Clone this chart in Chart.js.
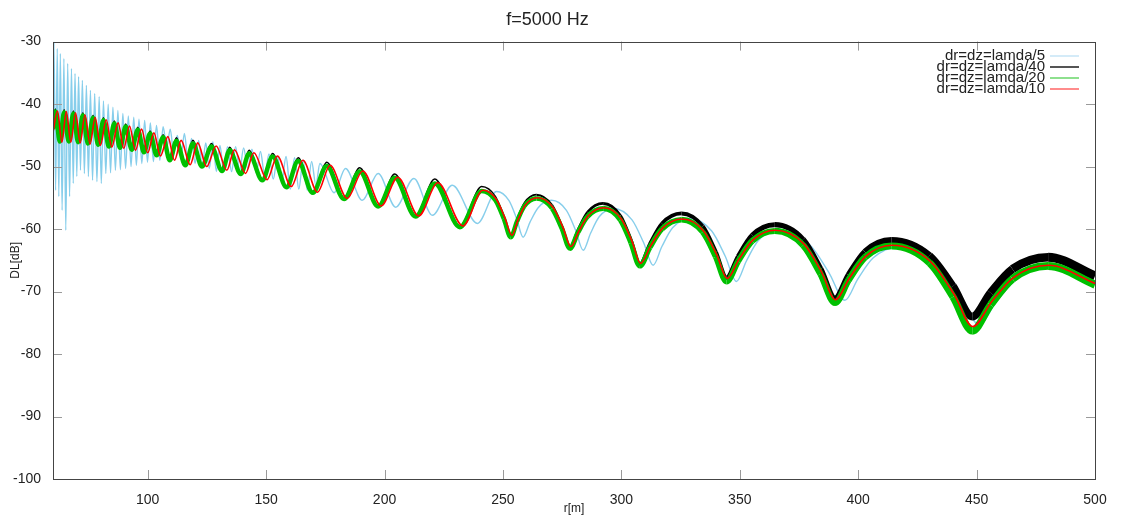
<!DOCTYPE html>
<html>
<head>
<meta charset="utf-8">
<script src="https://cdn.jsdelivr.net/npm/chart.js@4.4.0/dist/chart.umd.min.js"></script>
<style>
  html, body { margin: 0; background: #fff; }
</style>
</head>
<body>
<canvas id="c" width="1121" height="520"></canvas>
<script>
// f=5000 Hz, DL vs range for four grid steps
const xTicks = [100, 150, 200, 250, 300, 350, 400, 450, 500];
const yTicks = [-100, -90, -80, -70, -60, -50, -40, -30];

const labels = ["dr=dz=lamda/5", "dr=dz=lamda/40", "dr=dz=lamda/20", "dr=dz=lamda/10"];

// lamda/5 (light blue) - noisy spikes close in, then a clean shifted ripple
const rL5 = [60.0, 60.4, 61.1, 61.8, 62.45, 63.1, 63.85, 64.6, 65.4, 66.2, 67.0, 67.8, 68.55, 69.3, 70.05, 70.8,
  71.6, 72.4, 73.25, 74.1, 74.95, 75.8, 76.7, 77.6, 78.55, 79.5, 80.4, 81.3, 82.3, 83.3, 84.3, 85.3, 86.35, 87.4,
  88.45, 89.5, 90.65, 91.8, 92.95, 94.1, 95.2, 96.3, 97.5, 98.7, 99.9, 101.1, 102.4, 103.7, 105.1, 106.5,
  108.0, 109.5, 111.0, 112.5, 114.0, 115.5, 117.0, 118.5, 120.0, 121.5, 123.0, 124.5, 126.0, 127.5, 129.0, 130.5,
  132.0, 133.7, 135.4, 137.1, 138.8, 140.5, 142.2, 144.0, 145.8, 147.6, 149.4, 151.2, 153.0, 154.8, 156.6, 158.4,
  160.2, 162.0, 163.8, 165.6, 167.4, 169.2, 171.0, 172.7, 178.7, 183.5, 190.6, 197.3, 204.7, 212.4, 220.2, 228.6,
  239.2, 247.3, 252.56, 255.81, 258.5, 261.38, 264.86, 270.5, 276.8, 280.68, 283.9, 286.95, 290.63, 296.6,
  304.5, 309.37, 313.4, 317.12, 321.62, 328.9, 338.16, 343.87, 348.6, 352.78, 357.82, 366.0, 379.35, 387.58,
  394.4, 399.82, 406.38, 417.0, 432.98, 442.84, 451.0, 458.44, 467.43, 482.0, 500.0];
const dlL5 = [-55.8, -30.0, -53.8, -31.1, -54.8, -31.9, -57.0, -32.7, -60.2, -33.5, -54.8, -34.3, -52.7, -35.1, -51.6, -35.6,
  -50.6, -36.2, -51.1, -37.0, -51.6, -37.8, -52.2, -38.3, -52.4, -38.8, -52.7, -39.5, -51.1, -40.0, -51.0, -40.5, -50.6, -41.0,
  -50.5, -41.5, -50.3, -41.9, -50.0, -42.1, -49.8, -42.4, -49.5, -42.6, -49.3, -43.0, -49.2, -43.4, -49.0, -43.6,
  -47.0, -44.0, -48.0, -45.0, -48.5, -44.7, -49.0, -45.5, -49.5, -45.8, -50.0, -46.2, -50.3, -46.0, -50.8, -46.6,
  -50.5, -46.8, -50.8, -46.8, -50.6, -47.0, -50.3, -47.2, -51.0, -47.6, -51.5, -48.0, -52.0, -48.4, -52.4, -48.4,
  -53.6, -48.6, -53.6, -49.0, -53.8, -49.2, -53.0, -49.5, -54.2, -50.3, -55.4, -51.1, -56.5, -51.9, -57.8, -53.0,
  -59.1, -54.0, -55.46, -58.38, -61.3, -58.94, -56.58, -55.4, -57.0, -60.2, -63.4, -60.72, -58.04, -56.7,
  -58.52, -62.16, -65.8, -62.8, -59.8, -58.3, -60.32, -64.36, -68.4, -65.12, -61.84, -60.2, -62.44, -66.92,
  -71.4, -68.0, -64.6, -62.9, -65.38, -70.34, -75.3, -71.58, -67.86, -66.0, -68.3];

// lamda/40 (black) and lamda/20 (green) share the same sampled ranges
const rL40 = [60.0, 61.0, 62.85, 64.7, 66.65, 68.6, 70.6, 72.6, 74.75, 76.9, 79.1, 81.3, 83.6, 85.9, 88.3, 90.7, 93.25,
  95.8, 98.4, 101.0, 103.75, 106.5, 109.3, 112.1, 115.9, 119.1, 122.9, 126.9, 131.4, 134.6, 139.3, 142.8, 148.4, 152.7,
  158.6, 163.5, 169.7, 175.6, 182.9, 189.5, 197.3, 204.3, 213.1, 221.2, 231.8, 241.0, 246.8, 250.35, 253.3, 255.89,
  259.02, 264.1, 270.77, 274.89, 278.3, 281.66, 285.72, 292.3, 299.58, 304.08, 307.8, 312.02, 317.13, 325.4, 334.33,
  339.84, 344.4, 349.3, 355.21, 364.8, 376.74, 384.1, 390.2, 395.94, 402.87, 414.1, 430.13, 440.02, 448.2, 455.88,
  465.16, 480.2, 500.0];
const dlL40 = [-43.6, -40.8, -45.8, -40.9, -45.8, -41.1, -45.9, -41.4, -46.1, -41.8, -46.3, -42.2, -46.6, -42.7, -46.8, -43.2, -47.1,
  -43.7, -47.5, -44.3, -48.0, -44.9, -48.8, -45.4, -49.6, -45.8, -49.8, -46.3, -50.5, -46.9, -51.0, -47.4, -52.0, -47.9,
  -53.1, -48.6, -54.0, -49.3, -55.0, -50.2, -56.2, -51.2, -57.8, -52.0, -59.5, -53.2, -54.78, -57.94, -61.1, -58.46,
  -55.82, -54.5, -56.18, -59.54, -62.9, -60.1, -57.3, -55.9, -57.84, -61.72, -65.6, -62.36, -59.12, -57.5, -59.56,
  -63.68, -67.8, -64.4, -61.0, -59.3, -61.66, -66.38, -71.1, -67.38, -63.66, -61.8, -64.24, -69.12, -74.0, -70.2,
  -66.4, -64.5, -67.5];

const rL20 = [60.0, 61.0, 62.85, 64.7, 66.65, 68.6, 70.6, 72.6, 74.75, 76.9, 79.1, 81.3, 83.6, 85.9, 88.3, 90.7, 93.25,
  95.8, 98.4, 101.0, 103.75, 106.5, 109.3, 112.1, 115.9, 119.1, 122.9, 126.9, 131.4, 134.6, 139.3, 142.8, 148.4, 152.7,
  158.6, 163.5, 169.7, 175.6, 182.9, 189.5, 197.3, 204.3, 213.1, 221.2, 231.8, 241.0, 246.8, 250.35, 253.3, 255.89,
  259.02, 264.1, 270.77, 274.89, 278.3, 281.66, 285.72, 292.3, 299.58, 304.08, 307.8, 312.02, 317.13, 325.4, 334.33,
  339.84, 344.4, 349.3, 355.21, 364.8, 376.74, 384.1, 390.2, 395.94, 402.87, 414.1, 430.13, 440.02, 448.2, 455.88,
  465.16, 480.2, 500.0];
const dlL20 = [-44.0, -41.2, -46.0, -41.3, -46.0, -41.5, -46.1, -41.8, -46.3, -42.2, -46.5, -42.6, -46.8, -43.1, -47.0, -43.6, -47.3,
  -44.1, -47.7, -44.7, -48.2, -45.3, -49.0, -45.9, -49.8, -46.3, -50.0, -46.8, -50.7, -47.4, -51.2, -47.9, -52.2, -48.4,
  -53.3, -49.1, -54.2, -49.9, -55.2, -50.8, -56.4, -51.8, -58.0, -52.7, -59.7, -53.9, -55.38, -58.34, -61.3, -58.82,
  -56.34, -55.1, -56.7, -59.9, -63.1, -60.54, -57.98, -56.7, -58.54, -62.22, -65.9, -62.94, -59.98, -58.5, -60.48,
  -64.44, -68.4, -65.16, -61.92, -60.3, -62.6, -67.2, -71.8, -68.16, -64.52, -62.7, -65.42, -70.86, -76.3, -72.14,
  -67.98, -65.9, -68.9];

// lamda/10 (red), lagging slightly behind the green close in
const rL10 = [60.0, 61.9, 63.75, 65.6, 67.55, 69.5, 71.5, 73.5, 75.65, 77.8, 80.0, 82.5, 84.8, 87.5, 89.9, 92.3, 94.85,
  97.4, 100.0, 102.6, 105.35, 108.5, 111.3, 114.1, 117.9, 121.1, 124.9, 128.9, 133.4, 136.6, 141.3, 144.8, 150.4, 154.7,
  160.6, 165.5, 171.7, 177.0, 184.2, 190.8, 198.6, 205.6, 214.4, 222.5, 233.1, 241.5, 247.2, 250.75, 253.8, 256.29,
  259.42, 264.5, 271.17, 275.29, 278.7, 282.06, 286.12, 292.6, 299.98, 304.48, 308.1, 312.42, 317.53, 325.7, 334.73,
  340.24, 344.7, 349.7, 355.61, 365.0, 377.14, 384.5, 390.4, 396.34, 403.27, 414.3, 430.53, 440.42, 448.4, 456.28,
  465.56, 480.4, 500.0];
const dlL10 = [-44.5, -41.1, -46.1, -41.2, -46.1, -41.4, -46.2, -41.7, -46.4, -42.1, -46.6, -42.5, -46.9, -43.0, -47.1, -43.5, -47.4,
  -44.0, -47.8, -44.6, -48.3, -45.2, -49.0, -45.8, -49.7, -46.2, -50.0, -46.7, -50.6, -47.3, -51.1, -47.8, -52.1, -48.3,
  -53.2, -49.0, -54.1, -49.8, -55.1, -50.7, -56.3, -51.7, -57.9, -52.6, -59.5, -53.8, -55.24, -58.12, -61.0, -58.6,
  -56.2, -55.0, -56.56, -59.68, -62.8, -60.32, -57.84, -56.6, -58.38, -61.94, -65.5, -62.66, -59.82, -58.4, -60.3,
  -64.1, -67.9, -64.82, -61.74, -60.2, -62.42, -66.86, -71.3, -67.82, -64.34, -62.6, -65.2, -70.4, -75.6, -71.68,
  -67.76, -65.8, -68.7];

const colors = ["#87ceeb", "#000000", "#00c000", "#ff0000"];
const keyColors = ["#d4ebf8", "#555555", "#8ee08e", "#ff8c8c"];

const pts = (xs, ys) => xs.map((x, i) => ({ x, y: ys[i] }));

// the fine-grid curves look like thickening bands further out
const widthAt = (from, to) => ctx => {
  const x = ctx.p0.parsed.x;
  if (x < 250) return from;
  return from + (to - from) * Math.min(1, (x - 250) / 230);
};

const line = (i, xs, ys, extra) => Object.assign({
  label: labels[i], data: pts(xs, ys), borderColor: colors[i],
  pointRadius: 0, fill: false, cubicInterpolationMode: "monotone",
}, extra);

const overlay = {
  id: "overlay",
  afterDatasetsDraw(chart) {
    const { ctx, chartArea: a, scales: { x, y } } = chart;
    ctx.save();
    ctx.lineWidth = 1;
    ctx.strokeStyle = "#9a9a9a";
    ctx.beginPath();
    xTicks.slice(0, -1).forEach(v => {
      const px = Math.round(x.getPixelForValue(v)) + 0.5;
      ctx.moveTo(px, a.bottom); ctx.lineTo(px, a.bottom - 9);
      ctx.moveTo(px, a.top); ctx.lineTo(px, a.top + 9);
    });
    yTicks.slice(1, -1).forEach(v => {
      const py = Math.round(y.getPixelForValue(v)) + 0.5;
      ctx.moveTo(a.left, py); ctx.lineTo(a.left + 9, py);
      ctx.moveTo(a.right, py); ctx.lineTo(a.right - 9, py);
    });
    ctx.stroke();
    ctx.strokeStyle = "#444";
    ctx.strokeRect(Math.round(a.left) + 0.5, Math.round(a.top) + 0.5,
                   Math.round(a.right - a.left), Math.round(a.bottom - a.top));

    // key, top right inside the frame
    ctx.font = "15px 'Liberation Sans', Arial, sans-serif";
    ctx.textAlign = "right";
    ctx.textBaseline = "middle";
    labels.forEach((t, i) => {
      const ty = 56 + i * 11;
      ctx.fillStyle = "#222";
      ctx.fillText(t, 1045, ty);
      ctx.strokeStyle = keyColors[i];
      ctx.lineWidth = 2;
      ctx.beginPath(); ctx.moveTo(1050, ty); ctx.lineTo(1079, ty); ctx.stroke();
    });
    ctx.restore();
  }
};

const font = { family: "'Liberation Sans', Arial, sans-serif" };

new Chart(document.getElementById("c"), {
  type: "line",
  data: {
    datasets: [
      line(0, rL5, dlL5, { borderWidth: 1.4, order: 4 }),
      line(1, rL40, dlL40, { borderWidth: 1.5, order: 3, segment: { borderWidth: widthAt(1.5, 9) } }),
      line(2, rL20, dlL20, { borderWidth: 4.5, order: 2, segment: { borderWidth: widthAt(4.5, 8) } }),
      line(3, rL10, dlL10, { borderWidth: 1.6, order: 1 }),
    ],
  },
  options: {
    responsive: false,
    animation: false,
    devicePixelRatio: 1,
    layout: { padding: { left: 0, right: 26, top: 0, bottom: 0 } },
    plugins: {
      legend: { display: false },
      tooltip: { enabled: false },
      title: {
        display: true, text: "f=5000 Hz", color: "#222",
        font: { ...font, size: 18, weight: "normal" }, padding: { top: 9, bottom: 11 },
      },
    },
    scales: {
      x: {
        type: "linear", min: 60, max: 500,
        grid: { display: false, drawTicks: false }, border: { display: false },
        afterBuildTicks: s => { s.ticks = xTicks.map(value => ({ value })); },
        afterFit: s => { s.height = 41; },
        ticks: { color: "#222", font: { ...font, size: 14 }, padding: 13, maxRotation: 0 },
        title: { display: true, text: "r[m]", color: "#222", font: { ...font, size: 12 }, padding: { top: 0, bottom: 4 } },
      },
      y: {
        type: "linear", min: -100, max: -30,
        grid: { display: false, drawTicks: false }, border: { display: false },
        afterBuildTicks: s => { s.ticks = yTicks.map(value => ({ value })); },
        afterFit: s => { s.width = 53; },
        ticks: { color: "#222", font: { ...font, size: 14 }, padding: 12 },
        title: { display: true, text: "DL[dB]", color: "#222", font: { ...font, size: 12 }, padding: { top: 8, bottom: 0 } },
      },
    },
  },
  plugins: [overlay],
});
</script>
</body>
</html>
